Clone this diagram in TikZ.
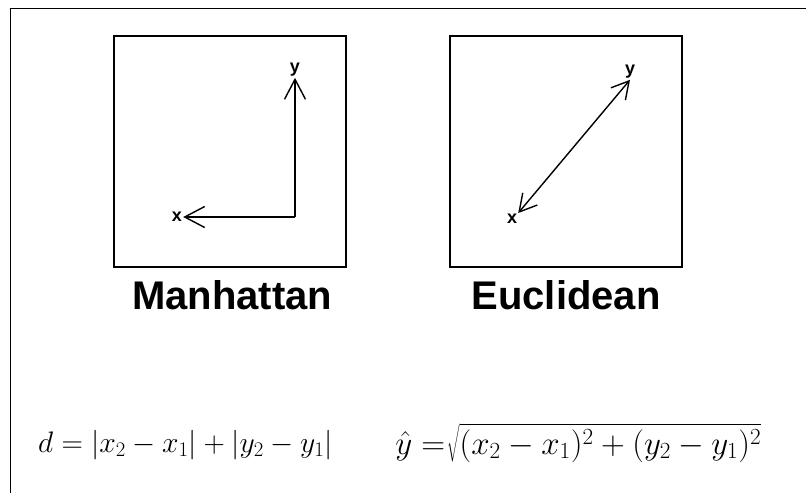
\RequirePackage{fix-cm}
\documentclass[tikz,border=0pt]{standalone}
\usepackage{fontspec}
\setsansfont{Liberation Sans}
\usetikzlibrary{arrows.meta}
\begin{document}
\begin{tikzpicture}[x=1pt,y=-1pt,font=\sffamily,>={Straight Barb[length=20pt,width=21pt]}]
  \tikzset{panel/.style={draw,line width=2.6pt,minimum width=232pt,minimum height=231pt,inner sep=0pt},
    title/.style={font=\sffamily\bfseries\fontsize{40}{42}\selectfont},
    axis/.style={font=\sffamily\bfseries\fontsize{18}{20}\selectfont,inner sep=1pt},
    vec/.style={->,line width=1.4pt},
    formula/.style={font=\fontsize{26}{30}\selectfont,inner sep=0pt,anchor=base west,transform shape}}
  \useasboundingbox (0,0) rectangle (806,493);
  % frame
  \draw[line width=1pt] (10,493) -- (10,8) -- (806,8);
  % panels
  \node[panel] (manhattan) at (230,151.5) {};
  \node[panel] (euclidean) at (566,151.5) {};
  \node[title] (mlabel) at (232,295) {Manhattan};
  \node[title] (elabel) at (566,295) {Euclidean};
  % manhattan path
  \node[axis] (mx) at (177,217) {x};
  \node[axis] (my) at (295,70) {y};
  \coordinate (corner) at (295,217);
  \draw[vec] (corner) -- (my.south);
  \draw[vec] (corner) -- (mx.east);
  % euclidean path
  \node[axis] (ex) at (512,219) {x};
  \node[axis] (ey) at (630,72) {y};
  \draw[vec,<->,>={Straight Barb[length=17pt,width=19pt]}] (ex.north east) -- (ey.south);
  % formulas
  \node[formula,scale=1.14] (dman) at (38,452) {$d = |x_2 - x_1| + |y_2 - y_1|$};
  \node[formula,scale=1.27] (deuc) at (395,454) {$\displaystyle \hat{y} = \mkern-4mu\sqrt{\vphantom{\big(}(x_2 - x_1)^2 + (y_2 - y_1)^2}$};
\end{tikzpicture}
\end{document}
